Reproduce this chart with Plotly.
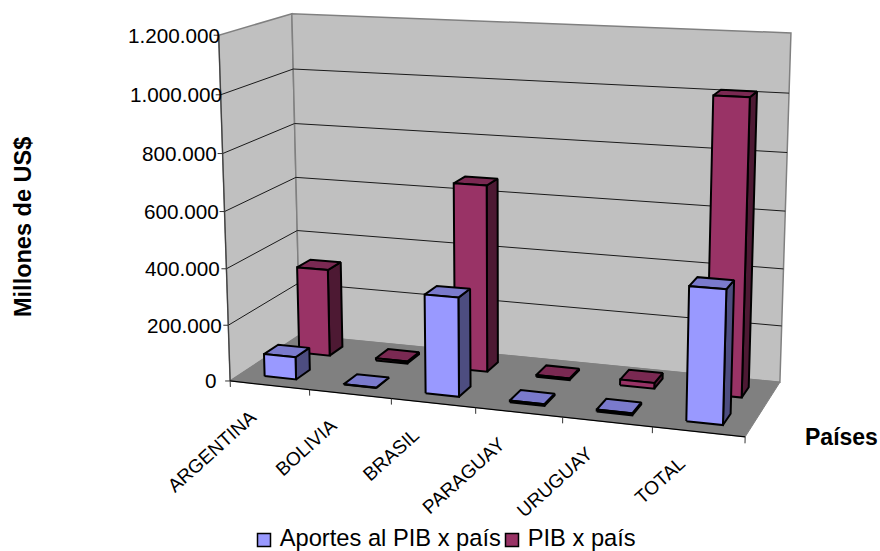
import numpy as np
import plotly.graph_objects as go

categories = ["ARGENTINA", "BOLIVIA", "BRASIL", "PARAGUAY", "URUGUAY", "TOTAL"]
aportes = [80000, 1500, 345000, 6000, 7000, 450000]
pib = [318000, 8000, 665000, 6000, 20000, 1015000]
tick_values = [0, 200000, 400000, 600000, 800000, 1000000, 1200000]
tick_labels = ["0", "200.000", "400.000", "600.000", "800.000", "1.000.000", "1.200.000"]
series_names = ["Aportes al PIB x país", "PIB x país"]
axis_y_title = "Millones de US$"
axis_x_title = "Países"

VMAX = 1200000.0
FONT = "Liberation Sans, Arial, sans-serif"
W, H = 880, 551

# calibration of the 3D box: (category, depth, height) -> screen
ctrl = [((0, 0, 0), (230, 381)), ((0, 0, 1), (219, 35)),
        ((0, 1, 0), (300, 335)), ((0, 1, 1), (291.5, 14)),
        ((1, 0, 0), (745, 437)), ((1, 1, 0), (780, 382)), ((1, 1, 1), (791, 33))]
A, b = [], []
for (u, d, h), (x, y) in ctrl:
    A.append([u, d, h, 1, 0, 0, 0, 0, -x * u, -x * d, -x * h]); b.append(x)
    A.append([0, 0, 0, 0, u, d, h, 1, -y * u, -y * d, -y * h]); b.append(y)
P = np.linalg.lstsq(np.array(A, float), np.array(b, float), rcond=None)[0]
P = np.append(P, 1).reshape(3, 4)


def proj(u, d, h):
    q = P @ np.array([u, d, h, 1.0])
    return q[0] / q[2], q[1] / q[2]


fig = go.Figure()


def poly(points, fill=None, line="black", width=1.0):
    xs = [p[0] for p in points]
    ys = [p[1] for p in points]
    if fill is not None:
        xs.append(xs[0]); ys.append(ys[0])
    fig.add_trace(go.Scatter(x=xs, y=ys, mode="lines",
                             line=dict(color=line, width=width),
                             fill="toself" if fill else None,
                             fillcolor=fill, hoverinfo="skip", showlegend=False))


# walls and floor
poly([proj(0, 0, 0), proj(0, 1, 0), proj(0, 1, 1), proj(0, 0, 1)], "#C0C0C0", "#808080", 1.5)
poly([proj(0, 1, 0), proj(1, 1, 0), proj(1, 1, 1), proj(0, 1, 1)], "#C0C0C0", "#808080", 1.5)
poly([proj(0, 0, 0), proj(1, 0, 0), proj(1, 1, 0), proj(0, 1, 0)], "#808080", "#808080", 1.0)

# gridlines
for v in tick_values[1:-1]:
    h = v / VMAX
    poly([proj(0, 0, h), proj(0, 1, h), proj(1, 1, h)], None, "#1a1a1a", 1.0)

# axes
poly([proj(0, 0, 0), proj(0, 0, 1)], None, "#404040", 1.2)
poly([proj(0, 0, 0), proj(1, 0, 0)], None, "black", 1.2)
for i in range(len(categories) + 1):
    x, y = proj(i / 6, 0, 0)
    poly([(x, y), proj(i / 6, 0, -0.018)], None, "#333333", 1.0)
for v in tick_values:
    h = v / VMAX
    x, y = proj(0, 0, h)
    poly([(x - 5, y), (x, y)], None, "#333333", 1.0)


# bars
def bar(i, d0, d1, value, front, top, side):
    u0, u1 = (i + 0.3) / 6, (i + 0.7) / 6
    h = value / VMAX
    poly([proj(u1, d0, 0), proj(u1, d1, 0), proj(u1, d1, h), proj(u1, d0, h)], side, "black", 2)
    poly([proj(u0, d0, h), proj(u1, d0, h), proj(u1, d1, h), proj(u0, d1, h)], top, "black", 2)
    poly([proj(u0, d0, 0), proj(u1, d0, 0), proj(u1, d0, h), proj(u0, d0, h)], front, "black", 2)


for i, v in enumerate(pib):
    bar(i, 0.65, 0.85, v, "#993366", "#7A2952", "#4D1933")
for i, v in enumerate(aportes):
    bar(i, 0.15, 0.35, v, "#9999FF", "#7A7ACC", "#4D4D80")

annotations = []
for v, lab in zip(tick_values, tick_labels):
    x, y = proj(0, 0, v / VMAX)
    dx = {1: -13, 7: -6, 9: 1}[len(lab)]
    annotations.append(dict(x=x + dx, y=y, text=lab, xref="x", yref="y", showarrow=False,
                            xanchor="right", yanchor="middle", xshift=2,
                            font=dict(family=FONT, size=20.7, color="black")))
for i, lab in enumerate(categories):
    x, y = proj((i + 0.5) / 6, 0, 0)
    annotations.append(dict(x=x - 7, y=y + 18, text=lab, xref="x", yref="y", showarrow=False,
                            xanchor="right", yanchor="top", textangle=-42,
                            font=dict(family=FONT, size=19, color="black")))
annotations.append(dict(x=23, y=227, text="<b>%s</b>" % axis_y_title, xref="x", yref="y",
                        showarrow=False, textangle=-90,
                        font=dict(family=FONT, size=23.5, color="black")))
annotations.append(dict(x=841, y=437, text="<b>%s</b>" % axis_x_title, xref="x", yref="y",
                        showarrow=False, font=dict(family=FONT, size=23, color="black")))

# legend entries
for name, color, mx in zip(series_names, ["#9999FF", "#993366"], [264, 512]):
    fig.add_trace(go.Scatter(x=[mx], y=[540], mode="markers+text", text=["\u00a0" + name],
                             textposition="middle right", hoverinfo="skip", showlegend=False,
                             textfont=dict(family=FONT, size=23.7, color="black"),
                             marker=dict(symbol="square", size=13, color=color,
                                         line=dict(color="black", width=1.5))))

fig.update_layout(
    width=W, height=H, margin=dict(l=0, r=0, t=0, b=0),
    paper_bgcolor="white", plot_bgcolor="white", showlegend=False,
    xaxis=dict(range=[0, W], visible=False, fixedrange=True),
    yaxis=dict(range=[H, 0], visible=False, fixedrange=True),
    annotations=annotations,
)
fig.write_html("out.html", config={"displayModeBar": False},
               post_script="document.body.style.margin='0';document.body.style.overflow='hidden';")
